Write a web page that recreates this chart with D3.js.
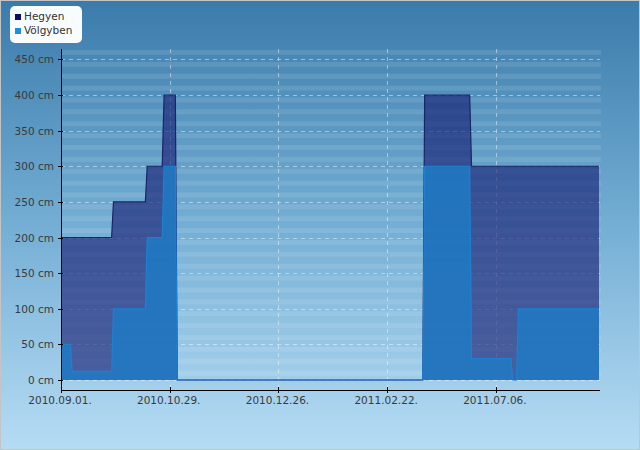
<!DOCTYPE html>
<html>
<head>
<meta charset="utf-8">
<script src="https://cdn.jsdelivr.net/npm/d3@7"></script>
<style>
  body { margin: 0; background: #fff; }
  svg text { font-family: "DejaVu Sans", sans-serif; }
</style>
</head>
<body>
<div id="chart"></div>
<script>
// water level, one value per day (index), kept as runs: [first index, value in cm]
const dayCount = 288;
const hegyenRuns = [[0, 200], [28, 250], [46, 300], [55, 400], [62, 0], [194, 400], [219, 300]];
const volgybenRuns = [[0, 50], [6, 12], [28, 100], [46, 200], [55, 300], [62, 0], [194, 300], [219, 30], [241, 0], [244, 100]];
const seriesNames = ["Hegyen", "Völgyben"];
const seriesColors = ["#0c0c64", "#1e8fdc"];
const xTickIndex = [0, 58, 116, 174, 232];
const xTickLabels = ["2010.09.01.", "2010.10.29.", "2010.12.26.", "2011.02.22.", "2011.07.06."];
const yTicks = [0, 50, 100, 150, 200, 250, 300, 350, 400, 450];

// expand the runs into one value per day
function expandRuns(runs) {
    const values = [];
    for (let i = 0; i < dayCount; i++) {
        let v = 0;
        runs.forEach(r => { if (r[0] <= i) v = r[1]; });
        values.push(v);
    }
    return values;
}
const hegyen = expandRuns(hegyenRuns);
const volgyben = expandRuns(volgybenRuns);

const width = 640, height = 450;
const plotLeft = 61, plotRight = 599, plotTop = 49, axisY = 390;

const svg = d3.select("#chart").append("svg")
    .attr("width", width)
    .attr("height", height);

const defs = svg.append("defs");
const grad = defs.append("linearGradient")
    .attr("id", "bg")
    .attr("x1", 0).attr("y1", 0).attr("x2", 0).attr("y2", 1);
grad.append("stop").attr("offset", "0%").attr("stop-color", "#3b7bab");
grad.append("stop").attr("offset", "50%").attr("stop-color", "#74aed4");
grad.append("stop").attr("offset", "100%").attr("stop-color", "#b6dcf4");

svg.append("rect")
    .attr("x", 0.5).attr("y", 0.5)
    .attr("width", width - 1).attr("height", height - 1)
    .attr("fill", "url(#bg)")
    .attr("stroke", "#c4c4c4");

const x = d3.scaleLinear().domain([0, dayCount - 1]).range([plotLeft, plotRight]);
const y = d3.scaleLinear().domain([0, 400]).range([380, 95]);

// light stripes across the plot
const bandStep = (y(0) - y(50)) / 3;
const bands = d3.range(plotTop + 1, y(0) - 2, bandStep);
svg.append("g").selectAll("rect")
    .data(bands)
    .enter()
    .append("rect")
    .attr("x", plotLeft + 1)
    .attr("y", d => d)
    .attr("width", plotRight - plotLeft + 1)
    .attr("height", 5)
    .attr("fill", "#fff")
    .attr("opacity", 0.1);

// grid
const grid = svg.append("g")
    .attr("stroke", "#fff")
    .attr("stroke-opacity", 0.45)
    .attr("stroke-dasharray", "4,4");
grid.selectAll("line.h")
    .data(yTicks)
    .enter()
    .append("line")
    .attr("x1", plotLeft).attr("x2", plotRight + 1)
    .attr("y1", d => Math.round(y(d)) + 0.5)
    .attr("y2", d => Math.round(y(d)) + 0.5);
grid.selectAll("line.v")
    .data(xTickIndex.slice(1))
    .enter()
    .append("line")
    .attr("y1", plotTop).attr("y2", axisY)
    .attr("x1", d => Math.round(x(d)) + 0.5)
    .attr("x2", d => Math.round(x(d)) + 0.5);

// areas
const area = d3.area()
    .x((d, i) => x(i))
    .y0(y(0))
    .y1(d => y(d));
const line = d3.line()
    .x((d, i) => x(i))
    .y(d => y(d));

svg.append("path")
    .datum(hegyen)
    .attr("d", area)
    .attr("fill", "#141a70")
    .attr("fill-opacity", 0.62);
svg.append("path")
    .datum(hegyen)
    .attr("d", line)
    .attr("fill", "none")
    .attr("stroke", "#1a2466")
    .attr("stroke-width", 1.2);

svg.append("path")
    .datum(volgyben)
    .attr("d", area)
    .attr("fill", "#1f7ac4")
    .attr("fill-opacity", 0.85);
svg.append("path")
    .datum(volgyben)
    .attr("d", line)
    .attr("fill", "none")
    .attr("stroke", "#1e80d2")
    .attr("stroke-width", 1.2);

// axes
const axes = svg.append("g").attr("stroke", "#000").attr("stroke-width", 1);
axes.append("line")
    .attr("x1", plotLeft + 0.5).attr("x2", plotLeft + 0.5)
    .attr("y1", plotTop).attr("y2", axisY + 3);
axes.append("line")
    .attr("x1", plotLeft).attr("x2", plotRight + 1)
    .attr("y1", axisY + 0.5).attr("y2", axisY + 0.5);
axes.selectAll("line.yt")
    .data(yTicks)
    .enter()
    .append("line")
    .attr("x1", plotLeft - 3).attr("x2", plotLeft + 2)
    .attr("y1", d => Math.round(y(d)) + 0.5)
    .attr("y2", d => Math.round(y(d)) + 0.5);
axes.selectAll("line.xt")
    .data(xTickIndex)
    .enter()
    .append("line")
    .attr("y1", axisY - 3).attr("y2", axisY + 3)
    .attr("x1", d => Math.round(x(d)) + 0.5)
    .attr("x2", d => Math.round(x(d)) + 0.5);

svg.append("g").selectAll("text")
    .data(yTicks)
    .enter()
    .append("text")
    .attr("x", 54)
    .attr("y", d => y(d) + 4)
    .attr("text-anchor", "end")
    .attr("font-size", "10.5px")
    .attr("fill", "#3a3a3a")
    .text(d => d + " cm");

svg.append("g").selectAll("text")
    .data(xTickIndex)
    .enter()
    .append("text")
    .attr("x", d => x(d) - 1)
    .attr("y", 404)
    .attr("text-anchor", "middle")
    .attr("font-size", "10.5px")
    .attr("fill", "#3a3a3a")
    .text((d, i) => xTickLabels[i]);

// legend
const legend = svg.append("g");
legend.append("rect")
    .attr("x", 10).attr("y", 6)
    .attr("width", 72).attr("height", 37)
    .attr("rx", 5)
    .attr("fill", "#f8fcff");
seriesNames.forEach((name, i) => {
    legend.append("rect")
        .attr("x", 15).attr("y", 14 + i * 14)
        .attr("width", 6).attr("height", 6)
        .attr("fill", seriesColors[i]);
    legend.append("text")
        .attr("x", 24).attr("y", 20 + i * 14)
        .attr("font-size", "10.5px")
        .attr("fill", "#333")
        .text(name);
});
</script>
</body>
</html>
